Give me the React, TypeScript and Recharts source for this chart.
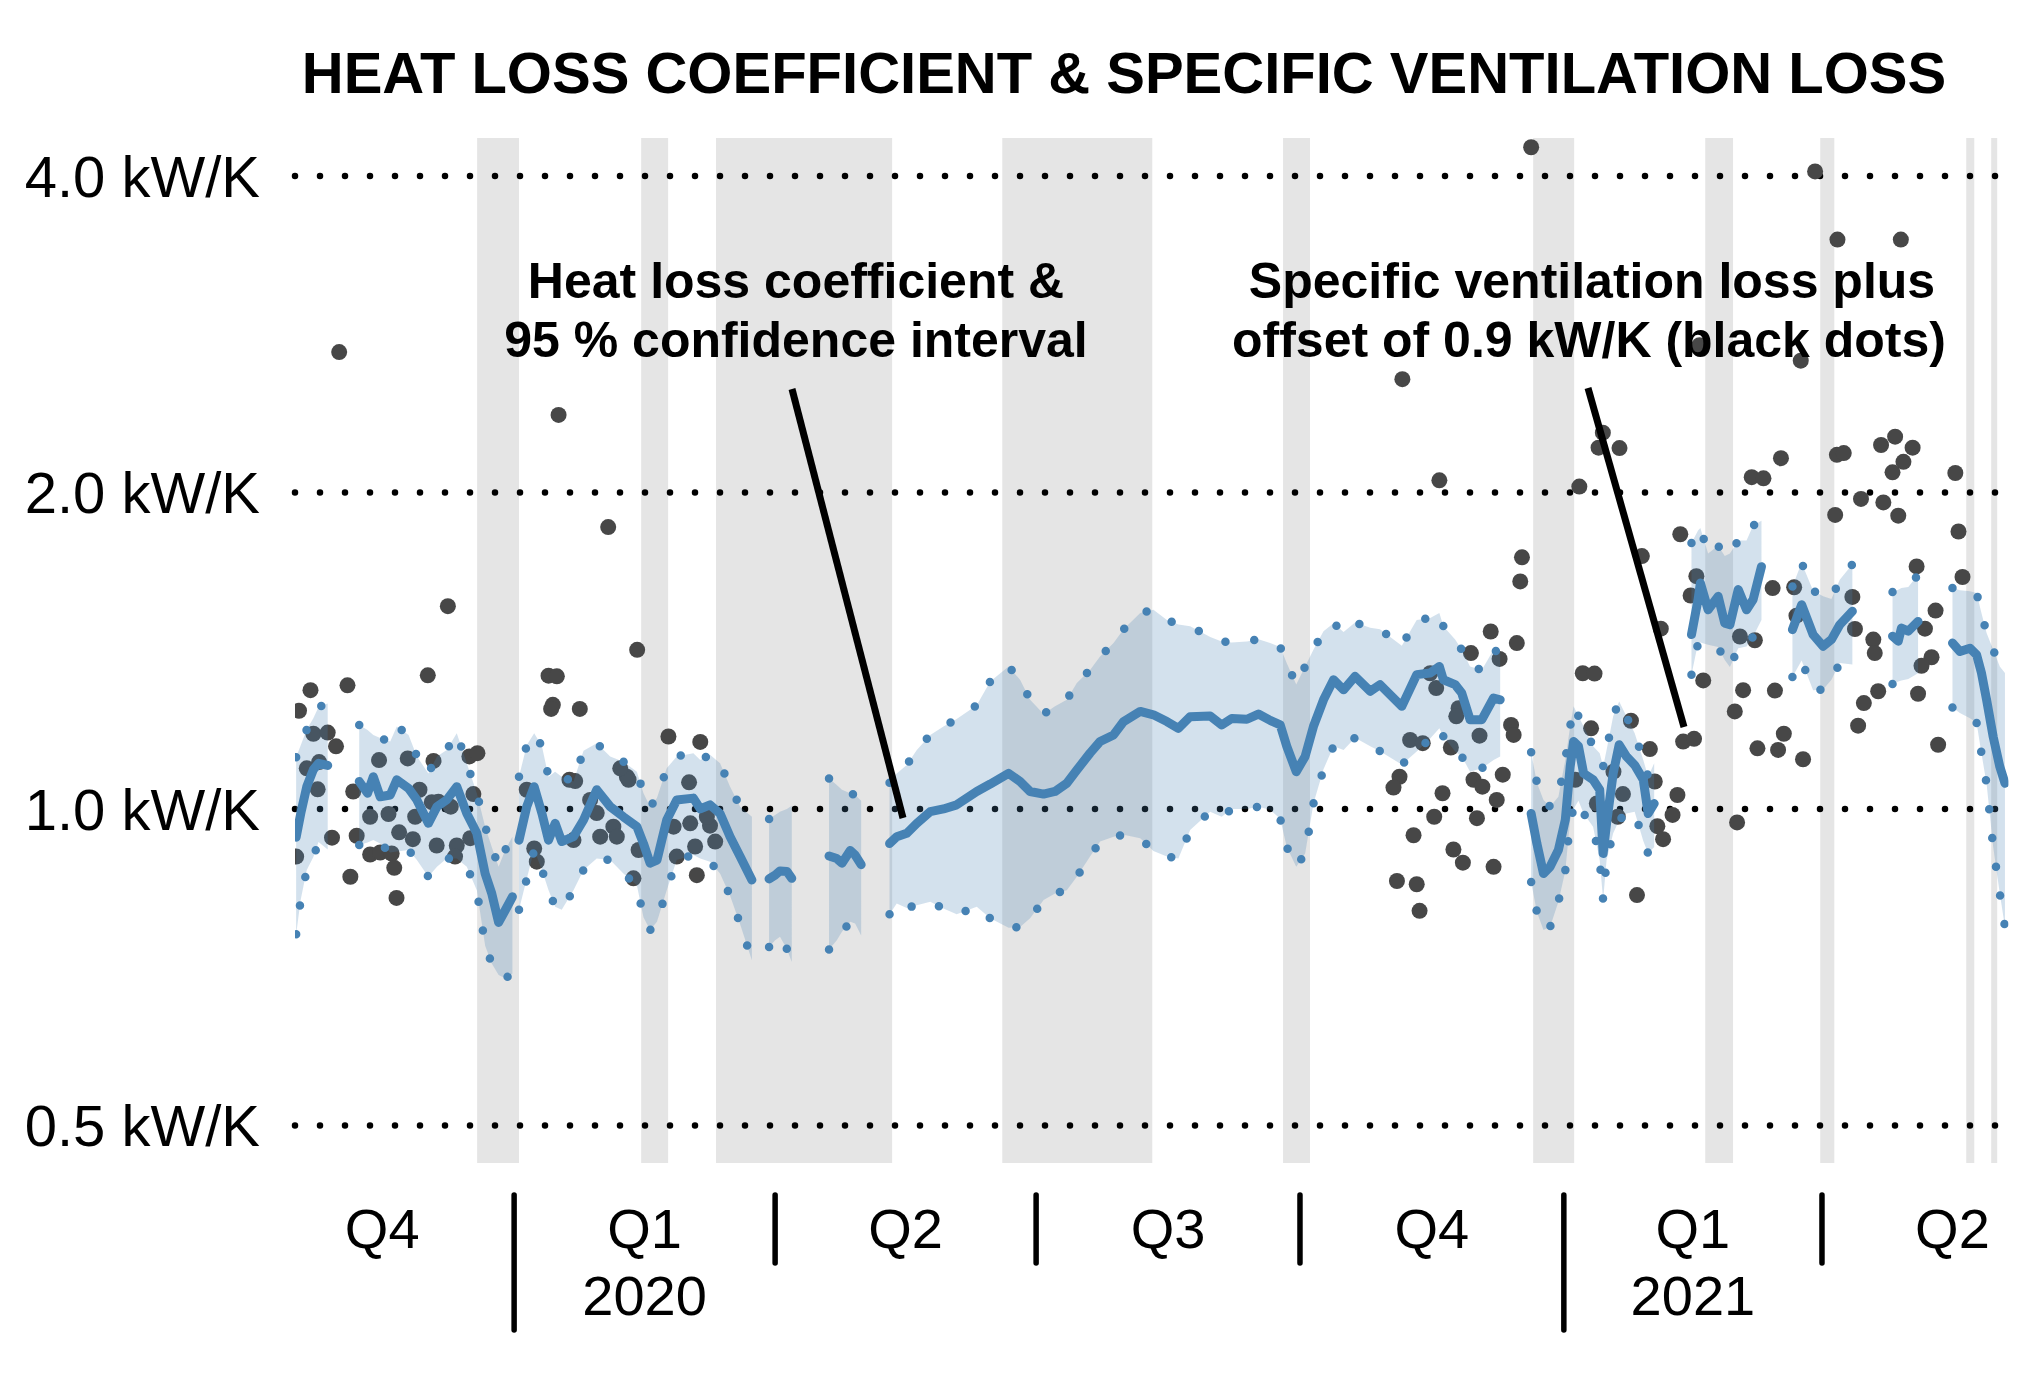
import React from 'react';
import {
  ComposedChart, XAxis, YAxis, ZAxis, Area, Line, Scatter, ReferenceArea, ReferenceLine,
} from 'recharts';

// days are counted from 1 Jan 2020
const X_MIN = -76.4;
const X_MAX = 521;
const GRID_END = 517.1;

// grey periods (heating off)
const bandFrom = [-12.9, 44.3, 70.4, 170.2, 268.1, 355.3, 415.3, 455.4, 506.3, 515.0];
const bandTo = [1.7, 53.7, 131.8, 222.5, 277.5, 369.6, 425.0, 460.3, 509.1, 517.1];

// heat loss coefficient (kW/K) with 95 % bounds, null = gap
const hlcDays = [
  -76.0, -74.4, -72.3, -70.0, -68.2, -65.0, -60,
  -54.0, -51.1, -49.1, -46.7, -43.2, -40.9, -36.8, -33.9, -29.9, -26.9, -23.5, -20.0, -16.5, -13.0, -10.1, -7.8, -5.4, -3.1, -0.6, 0.5,
  1.7, 4.4, 7.0, 9.7, 12.0, 14.3, 16.6, 20.7, 24.2, 28.8, 33.5, 38.1, 42.8, 45.1, 47.4, 49.8, 53.2, 56.7, 62.5, 64.9, 68.3, 71.8, 75.3, 78.8, 82.9, 85,
  88.9, 91.0, 92.7, 95.1, 96.8, 100,
  109.8, 112.5, 114.3, 117.2, 118.9, 121.0, 125,
  130.9, 133.4, 136.9, 140.4, 145.1, 149.7, 154.3, 161.3, 166.0, 172.4, 176.4, 179.9, 184.6, 188.6, 192.7, 196.2, 200.8, 204.3, 209.0, 212.5, 218.3, 222.9, 227.6, 231.6, 235.7,
  242.7, 246.7, 250.2, 255.5, 259.5, 263.6, 267.1, 269.4, 272.7, 275.8, 278.7, 282.2, 285.7, 289.2, 293.2, 298.5, 301.9, 309.5, 314.7, 319.4, 322.6, 324.0, 328.1, 330.4, 333.3, 337.4, 341.5, 343.8, 349,
  354.6, 356.6, 358.9, 361.2, 364.1, 366.5, 368.2, 369.4, 371.1, 372.9, 376.2, 378.5, 379.7, 380.9, 383.2, 385.3, 387.8, 390.7, 393.7, 395.4, 397.5, 404,
  410.5, 412.8, 413.6, 416.3, 419.8, 422.1, 423.9, 426.8, 429.7, 432.0, 434.9, 440,
  445.7, 448.9, 452.9, 456.4, 459.3, 462.2, 466.6, 473,
  480.6, 482.6, 483.7, 486.1, 489.5, 495,
  501.5, 504.1, 507.6, 509.9, 511.6, 513.4, 515.7, 518.0, 519.8,
];
const hlcMid = [
  0.94, 0.99, 1.05, 1.09, 1.105, 1.10, null,
  1.062, 1.035, 1.073, 1.027, 1.031, 1.066, 1.046, 1.020, 0.969, 1.005, 1.020, 1.050, 0.990, 0.948, 0.868, 0.831, 0.780, 0.801, 0.825, null,
  0.934, 1.005, 1.050, 0.990, 0.934, 0.969, 0.931, 0.941, 0.976, 1.043, 1.005, 0.983, 0.962, 0.927, 0.888, 0.894, 0.976, 1.020, 1.024, 1.000, 1.009, 0.990, 0.941, 0.901, 0.856, null,
  0.858, 0.865, 0.873, 0.872, 0.859, null,
  0.902, 0.897, 0.888, 0.913, 0.904, 0.885, null,
  0.927, 0.941, 0.948, 0.969, 0.994, 1.000, 1.009, 1.039, 1.056, 1.081, 1.062, 1.039, 1.033, 1.039, 1.058, 1.089, 1.130, 1.159, 1.176, 1.211, 1.238, 1.229, 1.211, 1.193, 1.224,
  1.226, 1.202, 1.219, 1.217, 1.231, 1.214, 1.202, 1.147, 1.085, 1.122, 1.198, 1.270, 1.327, 1.298, 1.337, 1.294, 1.313, 1.252, 1.342, 1.347, 1.366, 1.327, 1.313, 1.289, 1.216, 1.216, 1.275, 1.270, null,
  0.990, 0.927, 0.868, 0.881, 0.914, 0.976, 1.097, 1.159, 1.147, 1.081, 1.066, 1.043, 0.907, 0.969, 1.081, 1.151, 1.122, 1.101, 1.066, 0.990, 1.012, null,
  1.465, 1.582, 1.640, 1.547, 1.593, 1.502, 1.497, 1.617, 1.547, 1.582, 1.70, null,
  1.481, 1.564, 1.465, 1.428, 1.449, 1.497, 1.542, null,
  1.460, 1.444, 1.486, 1.476, 1.508, null,
  1.438, 1.412, 1.422, 1.402, 1.347, 1.270, 1.171, 1.097, 1.058,
];
const hlcLow = [
  0.76, 0.82, 0.875, 0.90, 0.93, 0.915, null,
  0.924, 0.929, 0.934, 0.927, 0.909, 0.911, 0.914, 0.894, 0.862, 0.881, 0.897, 0.897, 0.881, 0.837, 0.741, 0.713, 0.695, 0.690, 0.697, null,
  0.802, 0.858, 0.914, 0.875, 0.837, 0.807, 0.802, 0.837, 0.875, 0.897, 0.894, 0.868, 0.846, 0.789, 0.767, 0.781, 0.837, 0.894, 0.904, 0.897, 0.891, 0.868, 0.827, 0.777, 0.718, null,
  0.739, 0.750, 0.756, 0.736, 0.715, null,
  0.735, 0.750, 0.764, 0.781, 0.778, 0.758, null,
  0.794, 0.813, 0.805, 0.810, 0.816, 0.804, 0.794, 0.807, 0.787, 0.771, 0.772, 0.787, 0.819, 0.831, 0.837, 0.862, 0.901, 0.931, 0.941, 0.945, 0.938, 0.912, 0.901, 0.897, 0.955,
  0.994, 0.983, 1.000, 1.000, 1.005, 0.998, 0.979, 0.920, 0.881, 0.907, 1.012, 1.091, 1.147, 1.138, 1.169, 1.147, 1.135, 1.102, 1.134, 1.167, 1.193, 1.172, 1.134, 1.122, 1.085, 1.093, 1.113, 1.122, null,
  0.852, 0.798, 0.767, 0.772, 0.816, 0.873, 0.976, 1.000, 1.018, 0.990, 0.962, 0.894, 0.819, 0.894, 0.948, 0.976, 0.990, 0.994, 0.932, 0.907, 0.920, null,
  1.342, 1.438, 1.44, 1.433, 1.426, 1.386, 1.365, 1.422, 1.427, 1.459, 1.513, null,
  1.335, 1.384, 1.297, 1.299, 1.327, 1.377, 1.372, null,
  1.315, 1.322, 1.325, 1.329, 1.346, null,
  1.249, 1.234, 1.220, 1.208, 1.130, 1.056, 0.920, 0.831, 0.772,
];
const hlcHigh = [
  1.12, 1.15, 1.19, 1.22, 1.25, 1.26, null,
  1.202, 1.189, 1.176, 1.168, 1.159, 1.198, 1.176, 1.122, 1.081, 1.122, 1.138, 1.180, 1.105, 1.035, 0.962, 0.920, 0.881, 0.914, 0.941, null,
  1.073, 1.150, 1.180, 1.147, 1.073, 1.085, 1.073, 1.062, 1.136, 1.155, 1.122, 1.109, 1.085, 1.035, 1.005, 1.024, 1.093, 1.122, 1.130, 1.113, 1.126, 1.105, 1.050, 1.005, 0.983, null,
  0.978, 0.987, 0.994, 1.000, 1.007, null,
  1.069, 1.054, 1.043, 1.035, 1.031, 1.018, null,
  1.059, 1.081, 1.101, 1.138, 1.176, 1.198, 1.218, 1.255, 1.322, 1.366, 1.327, 1.270, 1.231, 1.252, 1.270, 1.318, 1.356, 1.396, 1.438, 1.482, 1.536, 1.547, 1.513, 1.498, 1.492,
  1.457, 1.443, 1.440, 1.443, 1.450, 1.438, 1.426, 1.376, 1.313, 1.366, 1.417, 1.476, 1.502, 1.473, 1.504, 1.487, 1.482, 1.430, 1.513, 1.519, 1.536, 1.492, 1.449, 1.417, 1.366, 1.356, 1.417, 1.407, null,
  1.132, 1.059, 1.020, 1.005, 1.027, 1.113, 1.198, 1.252, 1.225, 1.198, 1.147, 1.130, 1.097, 1.138, 1.225, 1.265, 1.225, 1.180, 1.113, 1.073, 1.105, null,
  1.79, 1.84, 1.85, 1.75, 1.78, 1.74, 1.75, 1.80, 1.80, 1.86, 1.88, null,
  1.628, 1.715, 1.613, 1.593, 1.584, 1.652, 1.709, null,
  1.608, 1.616, 1.622, 1.626, 1.670, null,
  1.622, 1.614, 1.611, 1.605, 1.536, 1.470, 1.417, 1.366, 1.347,
];

// specific ventilation loss + 0.9 kW/K
const ventDays = [
  -75.0, -71.0, -58.1, -23.1, -30.1, -70.0, -65.0, -62.1, -72.3, -68.0, -68.5, -63.5, -76.0, -57.1, -56.1, -47.1, -37.1, -28.1, -15.6, -12.8,
  -14.2, -33.0, -28.7, -26.4, -22.1, -50.2, -43.8, -34.5, -54.9, -40.1, -35.3, -27.0, -20.0, -20.6, -50.2, -46.7, -42.7, -41.8, -41.0, 42.9,
  12.0, 14.9, 13.5, 12.9, 22.9, 53.8, 64.9, 61.0, 4.4, 7.0, 7.9, 19.3, 21.3, 20.7, 26.5, 28.8, 30.0, 34.6, 35.8, 39.3,
  39.9, 61.4, 68.3, 70.1, 43.4, 41.6, 56.7, 63.7, 63.1, 55.6, 67.2, 37.0, -15.3, -61.0, 15.5, 32.8,
  350.8, 340.5, 349.6, 333.6, 343.6, 372.6, 376.7, 319.4, 321.5, 329.3, 328.5, 375.5, 347.6, 348.5, 336.6, 312.4, 316.8, 326.6, 389.4, 308.7,
  306.6, 334.5, 337.6, 344.7, 342.6, 323.7, 320.8, 335.7, 313.6, 327.5, 330.8, 341.5, 307.8, 314.7, 315.7, 370.0, 383.3, 386.6, 377.5, 384.8,
  391.5, 351.4, 309.7, 322.6, 354.6, 379.6, 378.1, 385.4, 371.4, 393.2,
  489.0, 505.0, 438.8, 446.3, 410.2, 412.2, 466.6, 495.6, 399.8, 467.5, 491.9, 432.6, 473.9, 474.4, 494.2, 490.7, 414.6, 428.5, 439.6, 475.6,
  489.5, 425.6, 470.6, 468.6, 407.6, 411.4, 496.5, 442.7, 433.5, 440.7, 449.4, 396.0, 397.7, 405.6, 403.9, 398.6, 400.6, 426.4, 447.1, 427.4,
  453.6, 461.4, 483.5, 413.3, 448.6, 441.7, 431.5, 435.6, 461.2, 460.6, 406.6, 463.6, 476.6, 481.5, 487.6, 484.4, 480.6, 502.5, 469.6, 477.4,
  482.6, 503.6,
];
const ventValues = [
  1.240, 1.297, 1.311, 1.559, 1.340, 1.179, 1.182, 1.147, 1.093, 1.108, 1.044, 0.939, 0.901, 0.862, 1.039, 1.113, 1.117, 1.111, 1.122, 1.130,
  1.033, 1.043, 1.015, 1.016, 1.005, 0.983, 0.989, 0.983, 0.943, 0.950, 0.936, 0.923, 0.923, 0.901, 0.905, 0.909, 0.907, 0.879, 0.823, 1.417,
  1.339, 1.337, 1.256, 1.245, 1.245, 1.172, 1.158, 1.060, 1.043, 0.917, 0.891, 1.066, 1.063, 0.934, 1.020, 0.991, 0.941, 0.962, 0.941, 1.073,
  1.066, 0.969, 0.964, 0.931, 0.914, 0.859, 0.901, 0.865, 0.921, 0.962, 0.983, 1.093, 0.938, 2.72, 2.37, 1.854,
  1.646, 1.475, 1.438, 1.407, 1.389, 1.346, 1.345, 1.346, 1.303, 1.247, 1.225, 1.193, 1.202, 1.176, 1.174, 1.163, 1.155, 1.144, 1.213, 1.073,
  1.048, 1.066, 1.050, 1.078, 1.020, 1.035, 0.983, 0.980, 0.944, 0.915, 0.889, 0.881, 0.854, 0.848, 0.800, 1.066, 1.085, 1.033, 1.012, 0.983,
  0.828, 1.735, 2.563, 2.054, 4.26, 2.28, 2.206, 2.204, 2.026, 1.74,
  1.701, 1.662, 1.622, 1.625, 1.596, 1.665, 1.591, 1.544, 1.484, 1.483, 1.484, 1.447, 1.449, 1.407, 1.394, 1.368, 1.325, 1.297, 1.296, 1.294,
  1.287, 1.238, 1.261, 1.200, 1.159, 1.166, 1.151, 1.179, 1.142, 1.138, 1.115, 1.140, 1.062, 1.031, 0.987, 0.963, 0.936, 0.971, 1.527, 1.459,
  4.04, 3.48, 3.48, 2.761, 2.669, 2.156, 2.068, 2.063, 2.172, 1.904, 1.825, 2.18, 2.219, 2.26, 2.206, 2.139, 2.09, 2.087, 1.972, 1.957,
  1.901, 1.836,
];

const yTicks = [0.5, 1, 2, 4];
const yTickLabels = ['0.5 kW/K', '1.0 kW/K', '2.0 kW/K', '4.0 kW/K'];

const quarterBounds = [0, 91, 182, 274, 366, 456];
const yearBounds = [0, 366];
const quarterCenters = [-46, 45.5, 136.5, 228, 320, 411, 501.5];
const quarterLabels = ['Q4', 'Q1', 'Q2', 'Q3', 'Q4', 'Q1', 'Q2'];
const yearLabels = ['', '2020', '', '', '', '2021', ''];

const FONT = '"Liberation Sans", Arial, Helvetica, sans-serif';
const BLUE = '#4682b4';

const hlcData = hlcDays.map((d, i) => ({
  d,
  mid: hlcMid[i],
  lo: hlcLow[i],
  hi: hlcHigh[i],
  band: hlcLow[i] == null ? null : [hlcLow[i], hlcHigh[i]],
}));
const ventData = ventDays.map((d, i) => ({ d, v: ventValues[i] }));

function QuarterTick(props: any) {
  const { x, payload } = props;
  const val = payload.value;
  if (quarterBounds.includes(val)) {
    const long = yearBounds.includes(val);
    return (
      <line x1={x} x2={x} y1={1195} y2={long ? 1330 : 1263} stroke="#000" strokeWidth={5.5} strokeLinecap="round" />
    );
  }
  const i = quarterCenters.indexOf(val);
  if (i < 0) return <g />;
  return (
    <g>
      <text x={x} y={1248} textAnchor="middle" fontSize={56} fontFamily={FONT} fill="#000">{quarterLabels[i]}</text>
      {yearLabels[i] && (
        <text x={x} y={1315} textAnchor="middle" fontSize={56} fontFamily={FONT} fill="#000">{yearLabels[i]}</text>
      )}
    </g>
  );
}

function LevelTick(props: any) {
  const { y, payload } = props;
  const i = yTicks.indexOf(payload.value);
  return (
    <text x={260} y={y} dy={21} textAnchor="end" fontSize={58} fontFamily={FONT} fill="#000">
      {yTickLabels[i]}
    </text>
  );
}

export default function App() {
  return (
    <div style={{ position: 'absolute', left: 0, top: 0, width: 2043, height: 1375, background: '#fff' }}>
      <ComposedChart
        width={2043}
        height={1375}
        margin={{ top: 138, right: 34.6, left: 294, bottom: 211 }}
      >
        <XAxis
          type="number"
          dataKey="d"
          domain={[X_MIN, X_MAX]}
          allowDataOverflow
          ticks={[...quarterBounds, ...quarterCenters].sort((a, b) => a - b)}
          interval={0}
          tick={<QuarterTick />}
          axisLine={false}
          tickLine={false}
          height={1}
        />
        <YAxis
          type="number"
          dataKey="v"
          scale="log"
          domain={[0.4605, 4.347]}
          allowDataOverflow
          ticks={yTicks}
          interval={0}
          tick={<LevelTick />}
          axisLine={false}
          tickLine={false}
          width={1}
        />
        <ZAxis range={[201, 201]} />
        {bandFrom.map((from, i) => (
          <ReferenceArea key={`b${i}`} x1={from} x2={bandTo[i]} fill="#e5e5e5" fillOpacity={1} stroke="none" zIndex={10} />
        ))}
        {yTicks.map((t) => (
          <ReferenceLine
            key={`g${t}`}
            segment={[{ x: X_MIN, y: t }, { x: GRID_END, y: t }]}
            stroke="#000"
            strokeWidth={6.5}
            strokeDasharray="0 25"
            strokeLinecap="round"
            zIndex={20}
          />
        ))}
        <Scatter
          data={ventData}
          dataKey="v"
          fill="#474747"
          isAnimationActive={false}
          zIndex={30}
          shape={(p: any) => <circle cx={p.cx} cy={p.cy} r={8} fill="#474747" />}
        />
        <Area
          data={hlcData}
          dataKey="band"
          fill={BLUE}
          fillOpacity={0.24}
          stroke="none"
          connectNulls={false}
          isAnimationActive={false}
          dot={false}
          activeDot={false}
          zIndex={40}
        />
        <Line
          data={hlcData}
          dataKey="hi"
          stroke={BLUE}
          strokeWidth={8.5}
          strokeDasharray="0 29"
          strokeLinecap="round"
          dot={false}
          activeDot={false}
          connectNulls={false}
          isAnimationActive={false}
          zIndex={50}
        />
        <Line
          data={hlcData}
          dataKey="lo"
          stroke={BLUE}
          strokeWidth={8.5}
          strokeDasharray="0 29"
          strokeLinecap="round"
          dot={false}
          activeDot={false}
          connectNulls={false}
          isAnimationActive={false}
          zIndex={50}
        />
        <Line
          data={hlcData}
          dataKey="mid"
          stroke={BLUE}
          strokeWidth={9}
          strokeLinejoin="round"
          strokeLinecap="round"
          dot={false}
          activeDot={false}
          connectNulls={false}
          isAnimationActive={false}
          zIndex={60}
        />
      </ComposedChart>
      <svg
        width={2043}
        height={1375}
        style={{ position: 'absolute', left: 0, top: 0, pointerEvents: 'none' }}
        fontFamily={FONT}
      >
        <text x={1124} y={93} textAnchor="middle" fontSize={58} fontWeight="bold" fill="#000">
          HEAT LOSS COEFFICIENT &amp; SPECIFIC VENTILATION LOSS
        </text>
        <text x={796} y={298} textAnchor="middle" fontSize={50} fontWeight="bold" fill="#000">Heat loss coefficient &amp;</text>
        <text x={796} y={357} textAnchor="middle" fontSize={50} fontWeight="bold" fill="#000">95 % confidence interval</text>
        <text x={1592} y={298} textAnchor="middle" fontSize={50} fontWeight="bold" fill="#000">Specific ventilation loss plus</text>
        <text x={1589} y={357} textAnchor="middle" fontSize={50} fontWeight="bold" fill="#000">offset of 0.9 kW/K (black dots)</text>
        <line x1={792} y1={389} x2={903} y2={818} stroke="#000" strokeWidth={7} />
        <line x1={1588} y1={388} x2={1684} y2={727} stroke="#000" strokeWidth={7} />
      </svg>
    </div>
  );
}
